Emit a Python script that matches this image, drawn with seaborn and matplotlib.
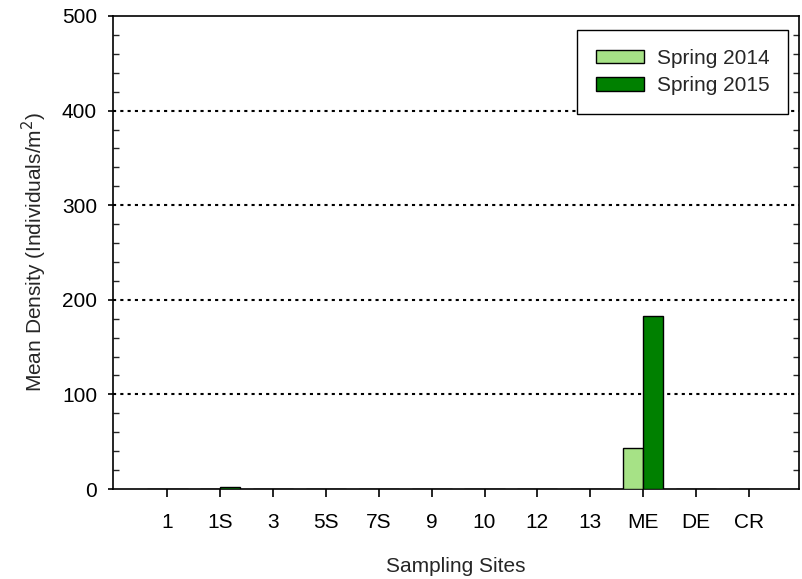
import matplotlib
matplotlib.use("Agg")
import matplotlib.pyplot as plt
from matplotlib.ticker import MultipleLocator
import seaborn as sns
import pandas as pd

sites = ["1", "1S", "3", "5S", "7S", "9", "10", "12", "13", "ME", "DE", "CR"]
spring_2014 = [0, 0, 0, 0, 0, 0, 0, 0, 0, 43, 0, 0]
spring_2015 = [0, 2, 0, 0, 0, 0, 0, 0, 0, 183, 0, 0]
seasons = ["Spring 2014", "Spring 2015"]
colors = ["#a6e286", "#008000"]

df = pd.DataFrame({
    "site": sites * 2,
    "density": spring_2014 + spring_2015,
    "season": [seasons[0]] * len(sites) + [seasons[1]] * len(sites),
})

sns.set_style("ticks")
plt.rcParams["font.family"] = ["Liberation Sans", "DejaVu Sans"]

fig = plt.figure(figsize=(8.03, 5.79), dpi=100)
ax = fig.add_axes([0.1407, 0.1554, 0.8543, 0.8170])

sns.barplot(data=df, x="site", y="density", hue="season", order=sites,
            hue_order=seasons, palette=colors, width=0.76, gap=0,
            edgecolor="black", linewidth=1.0, saturation=1, ax=ax, zorder=3)

# dotted reference lines
for yv in [100, 200, 300, 400]:
    ax.axhline(yv, color="black", linestyle=(0, (1.5, 2.0)), linewidth=1.5, zorder=1)

ax.set_ylim(0, 500)
ax.set_xlim(-1.03, 11.95)
ax.yaxis.set_major_locator(MultipleLocator(100))
ax.yaxis.set_minor_locator(MultipleLocator(20))

for sp in ax.spines.values():
    sp.set_visible(True)
    sp.set_color("black")
    sp.set_linewidth(1.2)

ax.tick_params(axis="x", which="major", direction="out", length=6, width=1.2,
               labelsize=15, colors="black", pad=11)
ax.tick_params(axis="y", which="major", direction="out", length=3.5, width=1.2,
               labelsize=15, colors="black", pad=8)
ax.tick_params(axis="y", which="minor", direction="in", length=4, width=1.0,
               left=True, right=True)
ax.tick_params(axis="x", which="minor", bottom=False)

ax.set_xlabel("Sampling Sites", fontsize=15, labelpad=18)
ax.set_ylabel("Mean Density (Individuals/m$^2$)", fontsize=15, labelpad=9.5)

handles, labels = ax.get_legend_handles_labels()
leg = ax.legend(handles, labels, loc="upper right", bbox_to_anchor=(0.984, 0.970),
                fontsize=15, frameon=True, fancybox=False, edgecolor="black",
                framealpha=1, handlelength=2.3, handleheight=0.6,
                borderpad=0.9, labelspacing=0.4, handletextpad=0.6,
                borderaxespad=0)
leg.get_frame().set_linewidth(1.0)
for h in leg.legend_handles:
    h.set_edgecolor("black")
    h.set_linewidth(1.0)
ax.set_title("")

fig.savefig("out.png", dpi=100)
